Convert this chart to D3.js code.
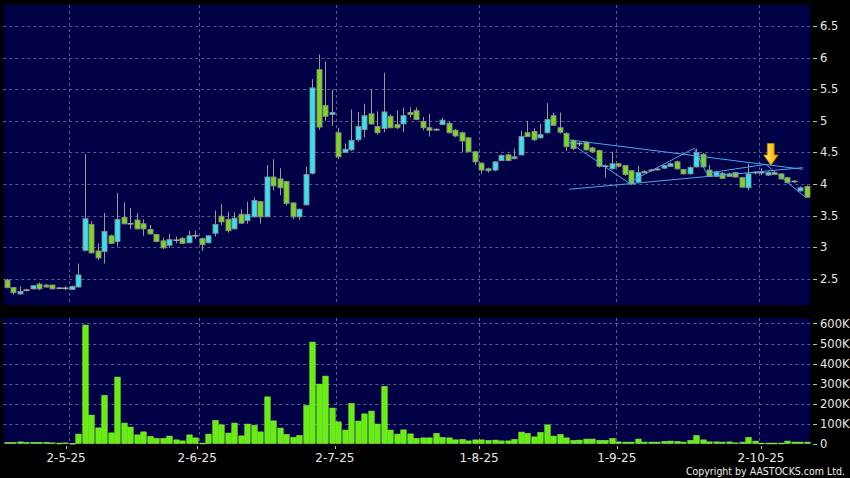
<!DOCTYPE html>
<html><head><meta charset="utf-8">
<script src="https://cdn.jsdelivr.net/npm/d3@7"></script>
<style>html,body{margin:0;padding:0;background:#000;}svg{display:block}</style>
</head><body>
<svg id="c" width="850" height="478"></svg>
<script>
const openP = [2.48,2.36,2.26,2.32,2.34,2.415,2.40,2.40,2.35,2.35,
2.33,2.37,2.95,3.36,2.94,2.93,3.18,3.09,3.47,3.37,
3.43,3.37,3.28,3.20,3.10,3.03,3.11,3.14,3.07,3.18,
3.135,3.07,3.22,3.49,3.44,3.29,3.52,3.42,3.48,3.72,
3.48,4.11,4.08,4.04,3.70,3.48,3.67,4.17,5.81,5.24,
5.10,4.81,4.50,4.54,4.70,4.86,5.11,4.91,4.88,5.07,
4.94,4.95,5.13,5.16,4.99,4.89,4.86,4.94,4.96,4.85,
4.81,4.73,4.51,4.33,4.24,4.22,4.37,4.46,4.40,4.46,
4.81,4.83,4.73,4.81,5.08,4.89,4.80,4.69,4.64,4.66,
4.57,4.53,4.28,4.24,4.32,4.29,4.21,4.03,4.20,4.215,
4.23,4.25,4.28,4.35,4.23,4.16,4.27,4.47,4.22,4.12,
4.17,4.16,4.18,4.10,3.94,4.18,4.18,4.14,4.18,4.16,
4.10,4.04,3.89,3.96];
const closeP = [2.36,2.28,2.30,2.32,2.39,2.34,2.37,2.34,2.35,2.35,
2.38,2.56,3.45,2.91,2.83,3.25,3.06,3.44,3.37,3.37,
3.29,3.29,3.21,3.09,2.99,3.12,3.11,3.06,3.18,3.18,
3.04,3.18,3.36,3.40,3.26,3.46,3.38,3.52,3.74,3.48,
4.11,3.97,3.94,3.69,3.48,3.60,4.15,5.52,4.90,5.07,
5.13,4.43,4.55,4.69,4.91,5.08,4.95,4.81,5.14,4.89,
4.89,5.08,5.10,5.02,4.89,4.85,4.86,5.01,4.81,4.76,
4.68,4.51,4.35,4.22,4.21,4.35,4.45,4.37,4.43,4.75,
4.75,4.70,4.78,5.02,4.93,4.82,4.59,4.56,4.64,4.54,
4.51,4.28,4.28,4.32,4.28,4.15,4.00,4.18,4.18,4.215,
4.23,4.29,4.32,4.24,4.16,4.26,4.50,4.27,4.12,4.19,
4.09,4.12,4.11,3.95,4.16,4.18,4.18,4.18,4.15,4.08,
4.02,4.04,3.94,3.79];
const highP = [2.50,2.37,2.38,2.34,2.40,2.44,2.42,2.41,2.37,2.38,
2.39,2.74,4.47,3.41,3.06,3.54,3.20,3.86,3.71,3.62,
3.54,3.44,3.35,3.21,3.15,3.21,3.17,3.16,3.26,3.26,
3.15,3.19,3.58,3.68,3.56,3.55,3.60,3.72,3.79,3.73,
4.30,4.39,4.25,4.05,3.71,3.61,4.27,5.66,6.05,5.94,
5.49,4.89,4.64,5.18,5.14,5.27,5.50,5.15,5.76,5.10,
5.16,5.21,5.21,5.21,5.06,5.11,4.88,5.05,4.98,4.87,
4.83,4.74,4.52,4.34,4.26,4.36,4.47,4.48,4.56,4.84,
5.00,4.88,4.95,5.28,5.13,5.13,4.82,4.70,4.66,4.68,
4.59,4.54,4.31,4.51,4.33,4.30,4.22,4.29,4.22,4.24,
4.25,4.30,4.34,4.37,4.24,4.28,4.56,4.49,4.30,4.21,
4.19,4.18,4.19,4.11,4.32,4.20,4.25,4.20,4.19,4.17,
4.11,4.06,3.96,3.98];
const lowP = [2.35,2.25,2.25,2.30,2.33,2.32,2.36,2.33,2.34,2.32,
2.32,2.36,2.93,2.90,2.80,2.74,3.05,3.01,3.36,3.29,
3.28,3.18,3.20,3.08,2.97,2.99,3.06,3.05,3.06,3.13,
2.94,3.06,3.17,3.35,3.23,3.28,3.37,3.37,3.47,3.37,
3.48,3.90,3.82,3.66,3.44,3.43,3.66,4.15,4.86,5.00,
4.92,4.39,4.49,4.52,4.67,4.74,4.94,4.78,4.82,4.88,
4.87,4.82,5.05,5.01,4.85,4.75,4.84,4.93,4.80,4.74,
4.50,4.50,4.30,4.16,4.18,4.20,4.36,4.36,4.39,4.45,
4.74,4.68,4.72,4.80,4.92,4.80,4.52,4.54,4.60,4.53,
4.49,4.26,4.10,4.23,4.26,4.13,3.98,4.02,4.17,4.20,
4.21,4.24,4.27,4.23,4.15,4.15,4.26,4.26,4.11,4.11,
4.08,4.11,4.10,3.94,3.90,4.15,4.14,4.13,4.14,4.07,
4.01,4.02,3.88,3.78];
const volumeK = [5,5,8,5,6,6,6,3,2,3,
1,47,592,142,78,240,53,332,102,82,
43,58,35,25,25,37,18,13,43,28,
2,47,115,93,52,102,38,97,90,58,
233,113,77,45,30,40,190,507,297,337,
177,108,67,200,112,148,162,97,285,67,
47,68,48,25,28,28,50,30,28,18,
20,13,18,18,15,17,13,13,20,57,
50,33,55,93,37,45,28,15,17,22,
22,15,15,25,8,7,7,22,7,7,
7,10,12,10,7,15,40,18,8,8,
7,8,3,7,30,12,2,2,2,2,
12,7,7,7];
const priceTicks = [2.5,3,3.5,4,4.5,5,5.5,6,6.5];
const priceTickLabels = ["2.5","3","3.5","4","4.5","5","5.5","6","6.5"];
const volTicks = [0,100,200,300,400,500,600];
const volTickLabels = ["0","100K","200K","300K","400K","500K","600K"];
const dateTickIndex = [10,30,51,73,94,116];
const dateTickLabels = ["2-5-25","2-6-25","2-7-25","1-8-25","1-9-25","2-10-25"];
// drawn annotations, in (candle index, price)
const trendUpper = [[86.6,4.696],[122.4,4.233]];
const trendLower = [[86.5,3.916],[122.4,4.258]];
const trendZigzag = [[86.2,4.68],[95.6,4.02],[105.7,4.565],[107.6,4.17],[116.7,4.31],[122.7,3.80]];
const arrowAt = [117.5, 4.30];

const N = openP.length;
const svg = d3.select("#c");
svg.append("rect").attr("width",850).attr("height",478).attr("fill","#000");

const PX0 = 3.3, PX1 = 810;
const P_TOP = 5, P_BOT = 305, V_TOP = 318, V_BOT = 444;

const x = d3.scaleBand().domain(d3.range(N)).range([3.45, 809.95]).padding(0);
const cx = i => x(i) + x.bandwidth()/2;
const xi = d3.scaleLinear().domain([0, N-1]).range([cx(0), cx(N-1)]);
const xLab = d3.scaleLinear().domain([0, N-1]).range([cx(0)-6.2, cx(N-1)+0.2]);
const y = d3.scaleLinear().domain([2.085, 6.832]).range([P_BOT, P_TOP]);
const yv = d3.scaleLinear().domain([0, 627.5]).range([443.5, V_TOP]);

const panelFill = "#000046";
svg.append("rect").attr("x",PX0).attr("y",P_TOP).attr("width",PX1-PX0).attr("height",P_BOT-P_TOP).attr("fill",panelFill);
svg.append("rect").attr("x",PX0).attr("y",V_TOP).attr("width",PX1-PX0).attr("height",V_BOT-V_TOP).attr("fill",panelFill);

const gridCol = "#5a5a8c";
const g = svg.append("g");
g.selectAll(".hp").data(priceTicks).join("line")
 .attr("x1",PX0).attr("x2",PX1).attr("y1",d=>Math.round(y(d))+0.5).attr("y2",d=>Math.round(y(d))+0.5)
 .attr("stroke",gridCol).attr("stroke-dasharray","3,3").attr("stroke-width",1);
g.selectAll(".hv").data(volTicks.filter(d=>d>0)).join("line")
 .attr("x1",PX0).attr("x2",PX1).attr("y1",d=>Math.round(yv(d))+0.5).attr("y2",d=>Math.round(yv(d))+0.5)
 .attr("stroke",gridCol).attr("stroke-dasharray","3,3").attr("stroke-width",1);
const gx = i => Math.round(cx(i) - 2.5) + 0.5;
g.selectAll(".vp").data(dateTickIndex).join("line")
 .attr("x1",gx).attr("x2",gx).attr("y1",P_TOP).attr("y2",P_BOT)
 .attr("stroke",gridCol).attr("stroke-dasharray","3,3");
g.selectAll(".vv").data(dateTickIndex).join("line")
 .attr("x1",gx).attr("x2",gx).attr("y1",V_TOP).attr("y2",V_BOT)
 .attr("stroke",gridCol).attr("stroke-dasharray","3,3");

// candles
const upCol = "#36e2f0", dnCol = "#7ad81e", edge = "#8c8c8c", wickCol = "#9a9a9a";
const idx = d3.range(N);
const cg = svg.append("g");
cg.selectAll(".w").data(idx).join("line")
 .attr("x1",i=>Math.round(cx(i))+0.5).attr("x2",i=>Math.round(cx(i))+0.5)
 .attr("y1",i=>y(highP[i])).attr("y2",i=>y(lowP[i]))
 .attr("stroke",wickCol).attr("stroke-width",1);
cg.selectAll(".b").data(idx.filter(i=>openP[i]!==closeP[i])).join("rect")
 .attr("x",i=>Math.round(cx(i))-2)
 .attr("width",5)
 .attr("y",i=>y(Math.max(openP[i],closeP[i])))
 .attr("height",i=>Math.max(1.5, y(Math.min(openP[i],closeP[i]))-y(Math.max(openP[i],closeP[i]))))
 .attr("fill",i=>closeP[i]>openP[i]?upCol:dnCol)
 .attr("stroke",edge).attr("stroke-width",0.9);
cg.selectAll(".d").data(idx.filter(i=>openP[i]===closeP[i])).join("line")
 .attr("x1",i=>Math.round(cx(i))-2.5).attr("x2",i=>Math.round(cx(i))+3.5)
 .attr("y1",i=>y(closeP[i])).attr("y2",i=>y(closeP[i]))
 .attr("stroke","#a8a8a8").attr("stroke-width",1.6);

// annotations
const line = d3.line().x(d=>xi(d[0])).y(d=>y(d[1]));
const annCol = "#4aa6f2";
[trendUpper, trendLower, trendZigzag].forEach(pts=>{
  svg.append("path").attr("d",line(pts)).attr("fill","none").attr("stroke",annCol).attr("stroke-width",1);
});
const defs = svg.append("defs");
const grad = defs.append("linearGradient").attr("id","ag").attr("x1","0").attr("x2","1").attr("y1","0").attr("y2","0");
grad.append("stop").attr("offset","0").attr("stop-color","#ffe27a");
grad.append("stop").attr("offset","0.5").attr("stop-color","#ffcc22");
grad.append("stop").attr("offset","1").attr("stop-color","#e89a00");
const ax = xi(arrowAt[0]), ay = y(arrowAt[1]);
svg.append("path")
 .attr("d",`M${ax},${ay} L${ax-7.2},${ay-10} L${ax-3.6},${ay-10} L${ax-3.6},${ay-21.5} L${ax+3.2},${ay-21.5} L${ax+3.2},${ay-10} L${ax+7.2},${ay-10} Z`)
 .attr("fill","url(#ag)").attr("stroke","#d08a00").attr("stroke-width",0.8);

// volume
svg.append("g").selectAll("rect").data(idx).join("rect")
 .attr("x",i=>Math.round(cx(i))-2.2).attr("width",5.4)
 .attr("y",i=>yv(volumeK[i])).attr("height",i=>Math.max(0.8, yv(0)-yv(volumeK[i])))
 .attr("fill","#66ee0e").attr("stroke","#8cf548").attr("stroke-width",0.6);

// right axes
const font = "DejaVu Sans, Verdana, sans-serif";
const ra = svg.append("g");
ra.selectAll(".pt").data(priceTicks).join("line")
 .attr("x1",813).attr("x2",817).attr("y1",d=>Math.round(y(d))+0.5).attr("y2",d=>Math.round(y(d))+0.5).attr("stroke","#bbb");
ra.selectAll(".pl").data(priceTicks).join("text")
 .attr("x",820).attr("y",d=>y(d)+4).text((d,i)=>priceTickLabels[i])
 .attr("fill","#e8e8e8").attr("font-family",font).attr("font-size",11.5);
ra.selectAll(".vt").data(volTicks).join("line")
 .attr("x1",813).attr("x2",817).attr("y1",d=>Math.round(yv(d))+0.5).attr("y2",d=>Math.round(yv(d))+0.5).attr("stroke","#bbb");
ra.selectAll(".vl").data(volTicks).join("text")
 .attr("x",820).attr("y",d=>yv(d)+4).text((d,i)=>volTickLabels[i])
 .attr("fill","#e8e8e8").attr("font-family",font).attr("font-size",11.5);

// x axis
const xa = svg.append("g");
xa.selectAll("line").data(dateTickIndex).join("line")
 .attr("x1",i=>Math.round(xLab(i))+0.5).attr("x2",i=>Math.round(xLab(i))+0.5).attr("y1",446).attr("y2",449).attr("stroke","#bbb");
xa.selectAll("text").data(dateTickIndex).join("text")
 .attr("x",i=>xLab(i)).attr("y",461.5).attr("text-anchor","middle")
 .text((d,k)=>dateTickLabels[k])
 .attr("fill","#e8e8e8").attr("font-family",font).attr("font-size",12);

svg.append("text").attr("x",845).attr("y",475).attr("text-anchor","end")
 .text("Copyright by AASTOCKS.com Ltd.")
 .attr("fill","#ececec").attr("font-family","Liberation Sans Narrow, DejaVu Sans Condensed, sans-serif").attr("font-size",10.5);
</script>
</body></html>
